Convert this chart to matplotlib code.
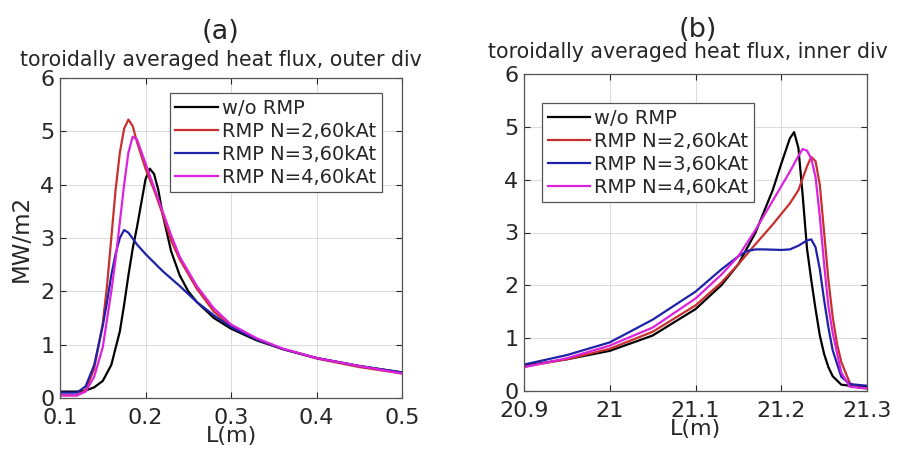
import numpy as np
import matplotlib
matplotlib.use('Agg')
import matplotlib.pyplot as plt

# outer divertor (a)
xa_black = [0.10, 0.12, 0.13, 0.14, 0.15, 0.16, 0.17, 0.175, 0.18, 0.185, 0.19, 0.195, 0.20, 0.205,
            0.21, 0.215, 0.22, 0.23, 0.24, 0.25, 0.26, 0.28, 0.30, 0.33, 0.36, 0.40, 0.45, 0.50]
ya_black = [0.12, 0.12, 0.14, 0.2, 0.32, 0.62, 1.25, 1.75, 2.3, 2.8, 3.2, 3.65, 4.1, 4.3,
            4.2, 3.9, 3.45, 2.75, 2.3, 2.0, 1.8, 1.5, 1.3, 1.08, 0.92, 0.75, 0.6, 0.48]
xa_n2 = [0.10, 0.12, 0.13, 0.14, 0.15, 0.155, 0.16, 0.165, 0.17, 0.175, 0.18, 0.185, 0.19,
         0.20, 0.21, 0.22, 0.23, 0.24, 0.26, 0.28, 0.30, 0.33, 0.36, 0.40, 0.45, 0.50]
ya_n2 = [0.05, 0.05, 0.15, 0.55, 1.4, 2.1, 3.0, 3.9, 4.6, 5.05, 5.22, 5.1, 4.8,
         4.3, 3.9, 3.45, 2.95, 2.6, 2.05, 1.62, 1.35, 1.1, 0.92, 0.74, 0.58, 0.46]
xa_n3 = [0.10, 0.12, 0.13, 0.14, 0.15, 0.155, 0.16, 0.165, 0.17, 0.175, 0.18, 0.19, 0.20,
         0.22, 0.24, 0.26, 0.28, 0.30, 0.33, 0.36, 0.40, 0.45, 0.50]
ya_n3 = [0.1, 0.1, 0.22, 0.62, 1.35, 1.8, 2.3, 2.7, 3.0, 3.15, 3.1, 2.88, 2.7,
         2.38, 2.1, 1.8, 1.55, 1.33, 1.1, 0.92, 0.75, 0.6, 0.48]
xa_n4 = [0.10, 0.12, 0.13, 0.14, 0.15, 0.16, 0.165, 0.17, 0.175, 0.18, 0.185, 0.19, 0.20,
         0.21, 0.22, 0.23, 0.24, 0.26, 0.28, 0.30, 0.33, 0.36, 0.40, 0.45, 0.50]
ya_n4 = [0.05, 0.05, 0.12, 0.4, 0.95, 2.0, 2.6, 3.3, 4.0, 4.6, 4.9, 4.85, 4.4,
         3.95, 3.5, 3.05, 2.65, 2.1, 1.68, 1.38, 1.12, 0.93, 0.75, 0.6, 0.46]

# inner divertor (b)
xb_black = [20.90, 20.95, 21.00, 21.05, 21.10, 21.13, 21.15, 21.17, 21.19, 21.20, 21.21, 21.215,
            21.22, 21.225, 21.23, 21.235, 21.24, 21.245, 21.25, 21.255, 21.26, 21.27, 21.28, 21.30]
yb_black = [0.48, 0.6, 0.76, 1.05, 1.55, 2.0, 2.4, 3.0, 3.8, 4.3, 4.78, 4.9,
            4.6, 3.7, 2.7, 2.1, 1.55, 1.05, 0.7, 0.45, 0.28, 0.12, 0.1, 0.08]
xb_n2 = [20.90, 20.95, 21.00, 21.05, 21.10, 21.13, 21.15, 21.17, 21.19, 21.21, 21.22, 21.23,
         21.235, 21.24, 21.245, 21.25, 21.255, 21.26, 21.265, 21.27, 21.28, 21.29, 21.30]
yb_n2 = [0.46, 0.6, 0.8, 1.12, 1.62, 2.05, 2.4, 2.78, 3.15, 3.55, 3.8, 4.25,
         4.43, 4.35, 3.9, 3.0, 2.1, 1.4, 0.9, 0.55, 0.15, 0.06, 0.05]
xb_n3 = [20.90, 20.95, 21.00, 21.05, 21.10, 21.13, 21.15, 21.16, 21.17, 21.18, 21.20, 21.21,
         21.22, 21.23, 21.235, 21.24, 21.245, 21.25, 21.255, 21.26, 21.27, 21.28, 21.30]
yb_n3 = [0.5, 0.68, 0.92, 1.35, 1.88, 2.3, 2.55, 2.65, 2.68, 2.68, 2.67, 2.68,
         2.75, 2.85, 2.87, 2.72, 2.3, 1.72, 1.2, 0.77, 0.27, 0.13, 0.1]
xb_n4 = [20.90, 20.95, 21.00, 21.05, 21.10, 21.13, 21.15, 21.17, 21.19, 21.21, 21.22, 21.225,
         21.23, 21.235, 21.24, 21.245, 21.25, 21.255, 21.26, 21.27, 21.28, 21.30]
yb_n4 = [0.45, 0.62, 0.86, 1.2, 1.75, 2.2, 2.55, 3.05, 3.6, 4.15, 4.45, 4.58,
         4.55, 4.4, 4.05, 3.3, 2.4, 1.6, 1.1, 0.35, 0.08, 0.05]

labels = ['w/o RMP', 'RMP N=2,60kAt', 'RMP N=3,60kAt', 'RMP N=4,60kAt']
colors = ['black', '#c83030', '#1f22a8', '#dd22dd']
xticks_a = [0.1, 0.2, 0.3, 0.4, 0.5]
xticks_b = [20.9, 21.0, 21.1, 21.2, 21.3]
xticklabels_b = ['20.9', '21', '21.1', '21.2', '21.3']
yticks = [0, 1, 2, 3, 4, 5, 6]

txt = '#262626'
plt.rcParams['font.family'] = 'DejaVu Sans'

fig = plt.figure(figsize=(9.02, 4.54), dpi=100)
W, H = 902, 454
ax1 = fig.add_axes([60 / W, 1 - 398 / H, 342 / W, 320 / H])
ax2 = fig.add_axes([524 / W, 1 - 391 / H, 343 / W, 317 / H])

def style(ax, xt, xtl, xlim):
    ax.set_xlim(xlim)
    ax.set_ylim(0, 6)
    ax.set_xticks(xt)
    if xtl is not None:
        ax.set_xticklabels(xtl)
    ax.set_yticks(yticks)
    ax.grid(True, color='#dcdcdc', linewidth=0.8)
    ax.set_axisbelow(True)
    ax.tick_params(direction='in', top=True, right=True, labelsize=16, colors=txt,
                   length=4, width=0.8)
    ax.tick_params(axis='x', pad=7)
    ax.tick_params(axis='y', pad=4)
    for s in ax.spines.values():
        s.set_color('#555555')
        s.set_linewidth(0.9)
    ax.set_xlabel('L(m)', fontsize=16, color=txt, labelpad=-1)

series_a = [(xa_black, ya_black), (xa_n2, ya_n2), (xa_n3, ya_n3), (xa_n4, ya_n4)]
series_b = [(xb_black, yb_black), (xb_n2, yb_n2), (xb_n3, yb_n3), (xb_n4, yb_n4)]

for (x, y), c, lab in zip(series_a, colors, labels):
    ax1.plot(x, y, color=c, linewidth=1.6, label=lab)
for (x, y), c, lab in zip(series_b, colors, labels):
    ax2.plot(x, y, color=c, linewidth=1.6, label=lab)

style(ax1, xticks_a, None, (0.1, 0.5))
style(ax2, xticks_b, xticklabels_b, (20.9, 21.3))
ax1.set_ylabel('MW/m2', fontsize=16.5, color=txt, labelpad=5)

for ax, loc, anchor in [(ax1, 'upper right', (0.9415, 0.953)), (ax2, 'upper left', (0.052, 0.9085))]:
    leg = ax.legend(loc=loc, bbox_to_anchor=anchor, fontsize=14, frameon=True, fancybox=False,
                    handlelength=2.2, handletextpad=0.2, borderpad=0.3, labelspacing=0.2,
                    borderaxespad=0, framealpha=1)
    leg.get_frame().set_edgecolor('#555555')
    leg.get_frame().set_linewidth(0.9)
    for t in leg.get_texts():
        t.set_color(txt)

fig.text(221 / W, 1 - 60 / H, 'toroidally averaged heat flux, outer div', fontsize=14.8,
         color=txt, ha='center', va='center')
fig.text(688 / W, 1 - 52 / H, 'toroidally averaged heat flux, inner div', fontsize=14.8,
         color=txt, ha='center', va='center')
fig.text(220 / W, 1 - 32 / H, '(a)', fontsize=19.5, color=txt, ha='center', va='center')
fig.text(698 / W, 1 - 30 / H, '(b)', fontsize=19.5, color=txt, ha='center', va='center')

fig.savefig('out.png', dpi=100)
